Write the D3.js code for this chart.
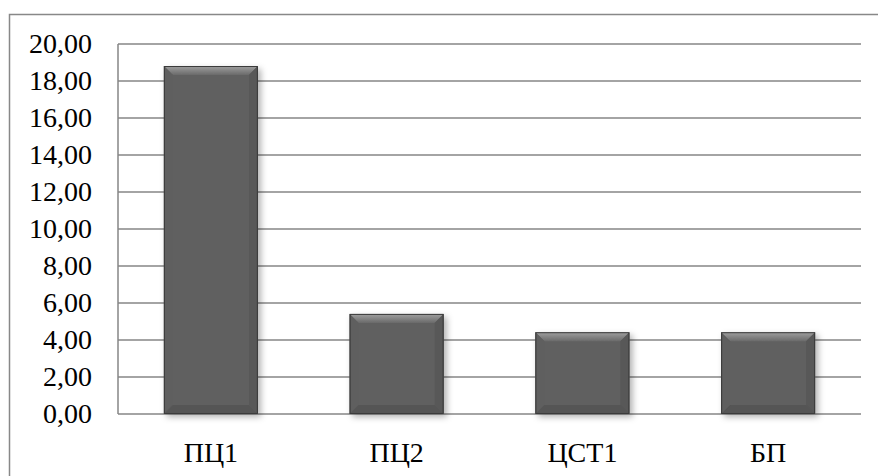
<!DOCTYPE html>
<html>
<head>
<meta charset="utf-8">
<script src="https://cdn.jsdelivr.net/npm/d3@7"></script>
<style>
  body { margin: 0; background: #fff; }
  svg text { font-family: 'Liberation Serif', 'Times New Roman', Times, serif !important; fill: #000; }
</style>
</head>
<body>
<div id="chart"></div>
<script>
// Chart data
const categories = ['ПЦ1', 'ПЦ2', 'ЦСТ1', 'БП']
const values = [18.81, 5.41, 4.42, 4.42]
const yTicks = [0, 2, 4, 6, 8, 10, 12, 14, 16, 18, 20]

// Canvas
const width = 878,
      height = 476,
      plotLeft = 118,
      plotRight = 861,
      plotTop = 44,
      plotBottom = 414,
      bevel = 9

let svg = d3.select('#chart')
  .append('svg')
  .attr('width', width)
  .attr('height', height)

let defs = svg.append('defs')

defs.append('filter')
  .attr('id', 'shadow')
  .attr('x', '-20%').attr('y', '-20%')
  .attr('width', '150%').attr('height', '150%')
  .append('feDropShadow')
  .attr('dx', 3).attr('dy', 3)
  .attr('stdDeviation', 3)
  .attr('flood-color', '#000')
  .attr('flood-opacity', 0.3)

let topGrad = defs.append('linearGradient')
  .attr('id', 'topGrad')
  .attr('x1', 0).attr('y1', 0).attr('x2', 0).attr('y2', 1)
topGrad.append('stop').attr('offset', '0%').attr('stop-color', '#a0a0a0')
topGrad.append('stop').attr('offset', '100%').attr('stop-color', '#6a6a6a')

// outer frame (right and bottom run off the picture)
svg.append('rect')
  .attr('x', 9.5).attr('y', 14.5)
  .attr('width', 880).attr('height', 480)
  .attr('fill', 'none')
  .attr('stroke', '#888')
  .attr('stroke-width', 1.5)

// Scales
let x = d3.scaleBand()
  .domain(categories)
  .range([plotLeft, plotRight])
  .paddingInner(0.494)
  .paddingOuter(0.247)

let y = d3.scaleLinear()
  .domain([0, 20])
  .range([plotBottom, plotTop])

// grid lines
svg.append('g')
  .selectAll('line')
  .data(yTicks)
  .enter()
  .append('line')
  .attr('x1', plotLeft).attr('x2', plotRight)
  .attr('y1', d => y(d)).attr('y2', d => y(d))
  .attr('stroke', '#868686')
  .attr('stroke-width', 1.5)

// left axis line
svg.append('line')
  .attr('x1', plotLeft).attr('x2', plotLeft)
  .attr('y1', plotTop).attr('y2', plotBottom)
  .attr('stroke', '#868686')
  .attr('stroke-width', 1.5)

// y tick labels
let yAxis = d3.axisLeft(y)
  .tickValues(yTicks)
  .tickSize(0)
  .tickPadding(26)
  .tickFormat(d => d3.format('.2f')(d).replace('.', ','))

svg.append('g')
  .attr('transform', `translate(${plotLeft},0)`)
  .call(yAxis)
  .attr('font-family', 'Liberation Serif')
  .attr('font-size', 28)
  .call(g => g.select('.domain').remove())

// x labels
let xAxis = d3.axisBottom(x).tickSize(0).tickPadding(28)
svg.append('g')
  .attr('transform', `translate(0,${plotBottom})`)
  .call(xAxis)
  .attr('font-family', 'Liberation Serif')
  .attr('font-size', 28)
  .call(g => g.select('.domain').remove())

// bars with bevel
let bars = svg.append('g')
  .selectAll('g')
  .data(values)
  .enter()
  .append('g')
  .attr('filter', 'url(#shadow)')

bars.append('rect')
  .attr('x', (d, i) => x(categories[i]))
  .attr('y', d => y(d))
  .attr('width', x.bandwidth())
  .attr('height', d => plotBottom - y(d))
  .attr('fill', '#616161')

let poly = (pts) => pts.map(p => p.join(',')).join(' ')

// top facet
bars.append('polygon')
  .attr('points', (d, i) => {
    let x0 = x(categories[i]), x1 = x0 + x.bandwidth(), y0 = y(d)
    return poly([[x0, y0], [x1, y0], [x1 - bevel, y0 + bevel], [x0 + bevel, y0 + bevel]])
  })
  .attr('fill', 'url(#topGrad)')

// left facet
bars.append('polygon')
  .attr('points', (d, i) => {
    let x0 = x(categories[i]), y0 = y(d)
    return poly([[x0, y0], [x0 + bevel, y0 + bevel], [x0 + bevel, plotBottom - bevel], [x0, plotBottom]])
  })
  .attr('fill', '#5e5e5e')

// right facet
bars.append('polygon')
  .attr('points', (d, i) => {
    let x1 = x(categories[i]) + x.bandwidth(), y0 = y(d)
    return poly([[x1, y0], [x1 - bevel, y0 + bevel], [x1 - bevel, plotBottom - bevel], [x1, plotBottom]])
  })
  .attr('fill', '#585858')

// bottom facet
bars.append('polygon')
  .attr('points', (d, i) => {
    let x0 = x(categories[i]), x1 = x0 + x.bandwidth()
    return poly([[x0, plotBottom], [x1, plotBottom], [x1 - bevel, plotBottom - bevel], [x0 + bevel, plotBottom - bevel]])
  })
  .attr('fill', '#545454')

// thin dark outline
bars.append('rect')
  .attr('x', (d, i) => x(categories[i]) + 0.5)
  .attr('y', d => y(d) + 0.5)
  .attr('width', x.bandwidth() - 1)
  .attr('height', d => plotBottom - y(d) - 1)
  .attr('fill', 'none')
  .attr('stroke', '#3a3a3a')
  .attr('stroke-width', 1)
</script>
</body>
</html>
